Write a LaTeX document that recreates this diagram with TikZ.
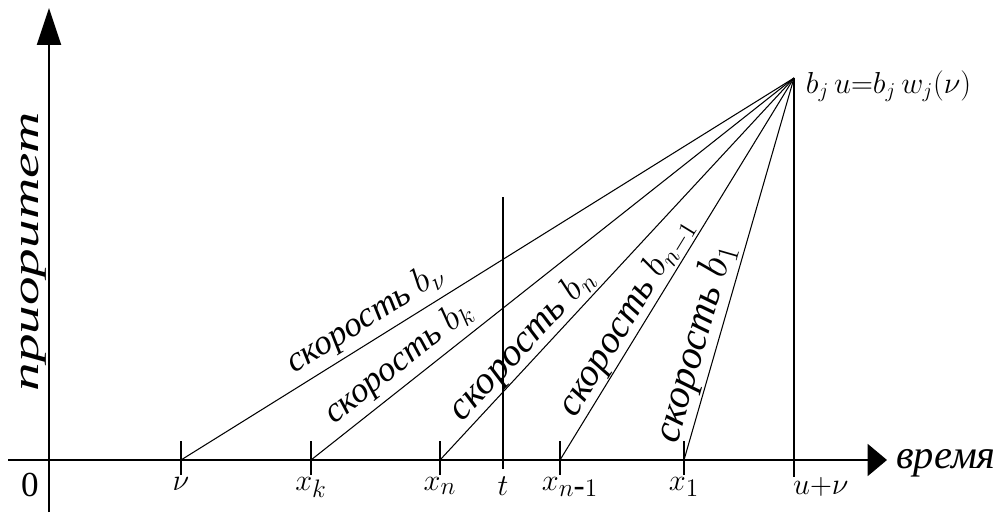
\documentclass[tikz,border=0pt]{standalone}
\usepackage{fontspec}
\setmainfont{Liberation Serif}
\usepackage{tikz}
\usetikzlibrary{arrows.meta}

\begin{document}
\begin{tikzpicture}[x=0.02cm, y=-0.02cm,
    axisLine/.style={line width=1.7pt},
    speedLine/.style={line width=0.6pt},
    tickLine/.style={line width=1.1pt},
    speedLabel/.style={sloped, above, inner sep=3pt, font=\fontsize{20}{24}\selectfont\itshape},
    pointLabel/.style={anchor=north, inner sep=1pt, font=\fontsize{19}{22}\selectfont}
]
    \useasboundingbox (0,0) rectangle (1003,517);

    % axes
    \coordinate (origin) at (49,460);
    \coordinate (xStart) at (8,460);
    \coordinate (xEnd) at (887,460);
    \coordinate (yStart) at (49,512);
    \coordinate (yEnd) at (49,8);
    \draw[axisLine, -{Triangle[length=21pt, width=13.5pt]}] (yStart) -- (yEnd);
    \draw[axisLine, -{Triangle[length=11pt, width=18pt]}] (xStart) -- (xEnd);

    \node[font=\fontsize{20}{24}\selectfont, inner sep=0pt] (zero) at (30,485) {0};
    \node[rotate=90, anchor=base, inner sep=0pt, font=\fontsize{21}{24}\selectfont\itshape] (prio) at (38,252) {\scalebox{1.55}[1]{приоритет}};
    \node[anchor=base west, inner sep=0pt, font=\fontsize{23}{26}\selectfont\itshape] (time) at (896,468) {время};

    % points on the time axis
    \coordinate (tNu) at (181,460);
    \coordinate (tK) at (311,460);
    \coordinate (tN) at (440,460);
    \coordinate (tT) at (503,460);
    \coordinate (tN1) at (560,460);
    \coordinate (tOne) at (684,460);
    \coordinate (tEnd) at (794,460);
    \coordinate (apex) at (794,78);

    \foreach \p in {tNu,tK,tN,tN1,tOne}
        \draw[tickLine] (\p) ++(0,-19) -- ++(0,34);

    \draw[tickLine] (tT) ++(0,-263) -- ++(0,272);
    \draw[tickLine] (apex) -- ([yshift=-0.34cm]tEnd);

    \node[pointLabel] (lNu) at ([yshift=-0.3cm]tNu) {$\nu$};
    \node[pointLabel] (lK) at ([yshift=-0.3cm]tK) {$x_k$};
    \node[pointLabel] (lN) at ([yshift=-0.3cm]tN) {$x_n$};
    \node[pointLabel] (lT) at ([yshift=-0.3cm]tT) {$t$};
    \node[pointLabel] (lN1) at ([yshift=-0.3cm,xshift=0.2cm]tN1) {$x_{n\mbox{-}1}$};
    \node[pointLabel] (lOne) at ([yshift=-0.3cm]tOne) {$x_1$};
    \node[pointLabel, anchor=north west] (lEnd) at ([yshift=-0.3cm,xshift=-0.06cm]tEnd) {$u{+}\nu$};

    \node[anchor=west, inner sep=2pt, font=\fontsize{18}{20}\selectfont] (apexLabel) at (802,86) {$b_j\,u{=}b_j\,w_j(\nu)$};

    % speed lines
    \draw[speedLine] (tNu) -- (apex) node[speedLabel, pos=0.32] {скорость $b_\nu$};
    \draw[speedLine] (tK) -- (apex) node[speedLabel, pos=0.21] {скорость $b_k$};
    \draw[speedLine] (tN) -- (apex) node[speedLabel, pos=0.27, inner sep=0pt, font=\fontsize{22}{24}\selectfont\itshape] {скорость $b_n$};
    \draw[speedLine] (tN1) -- (apex) node[speedLabel, pos=0.35, inner sep=0pt, font=\fontsize{22}{24}\selectfont\itshape] {скорость $b_{n-1}$};
    \draw[speedLine] (tOne) -- (apex) node[speedLabel, pos=0.29, inner sep=1pt, font=\fontsize{23}{26}\selectfont\itshape] {скорость $b_1$};
\end{tikzpicture}
\end{document}
